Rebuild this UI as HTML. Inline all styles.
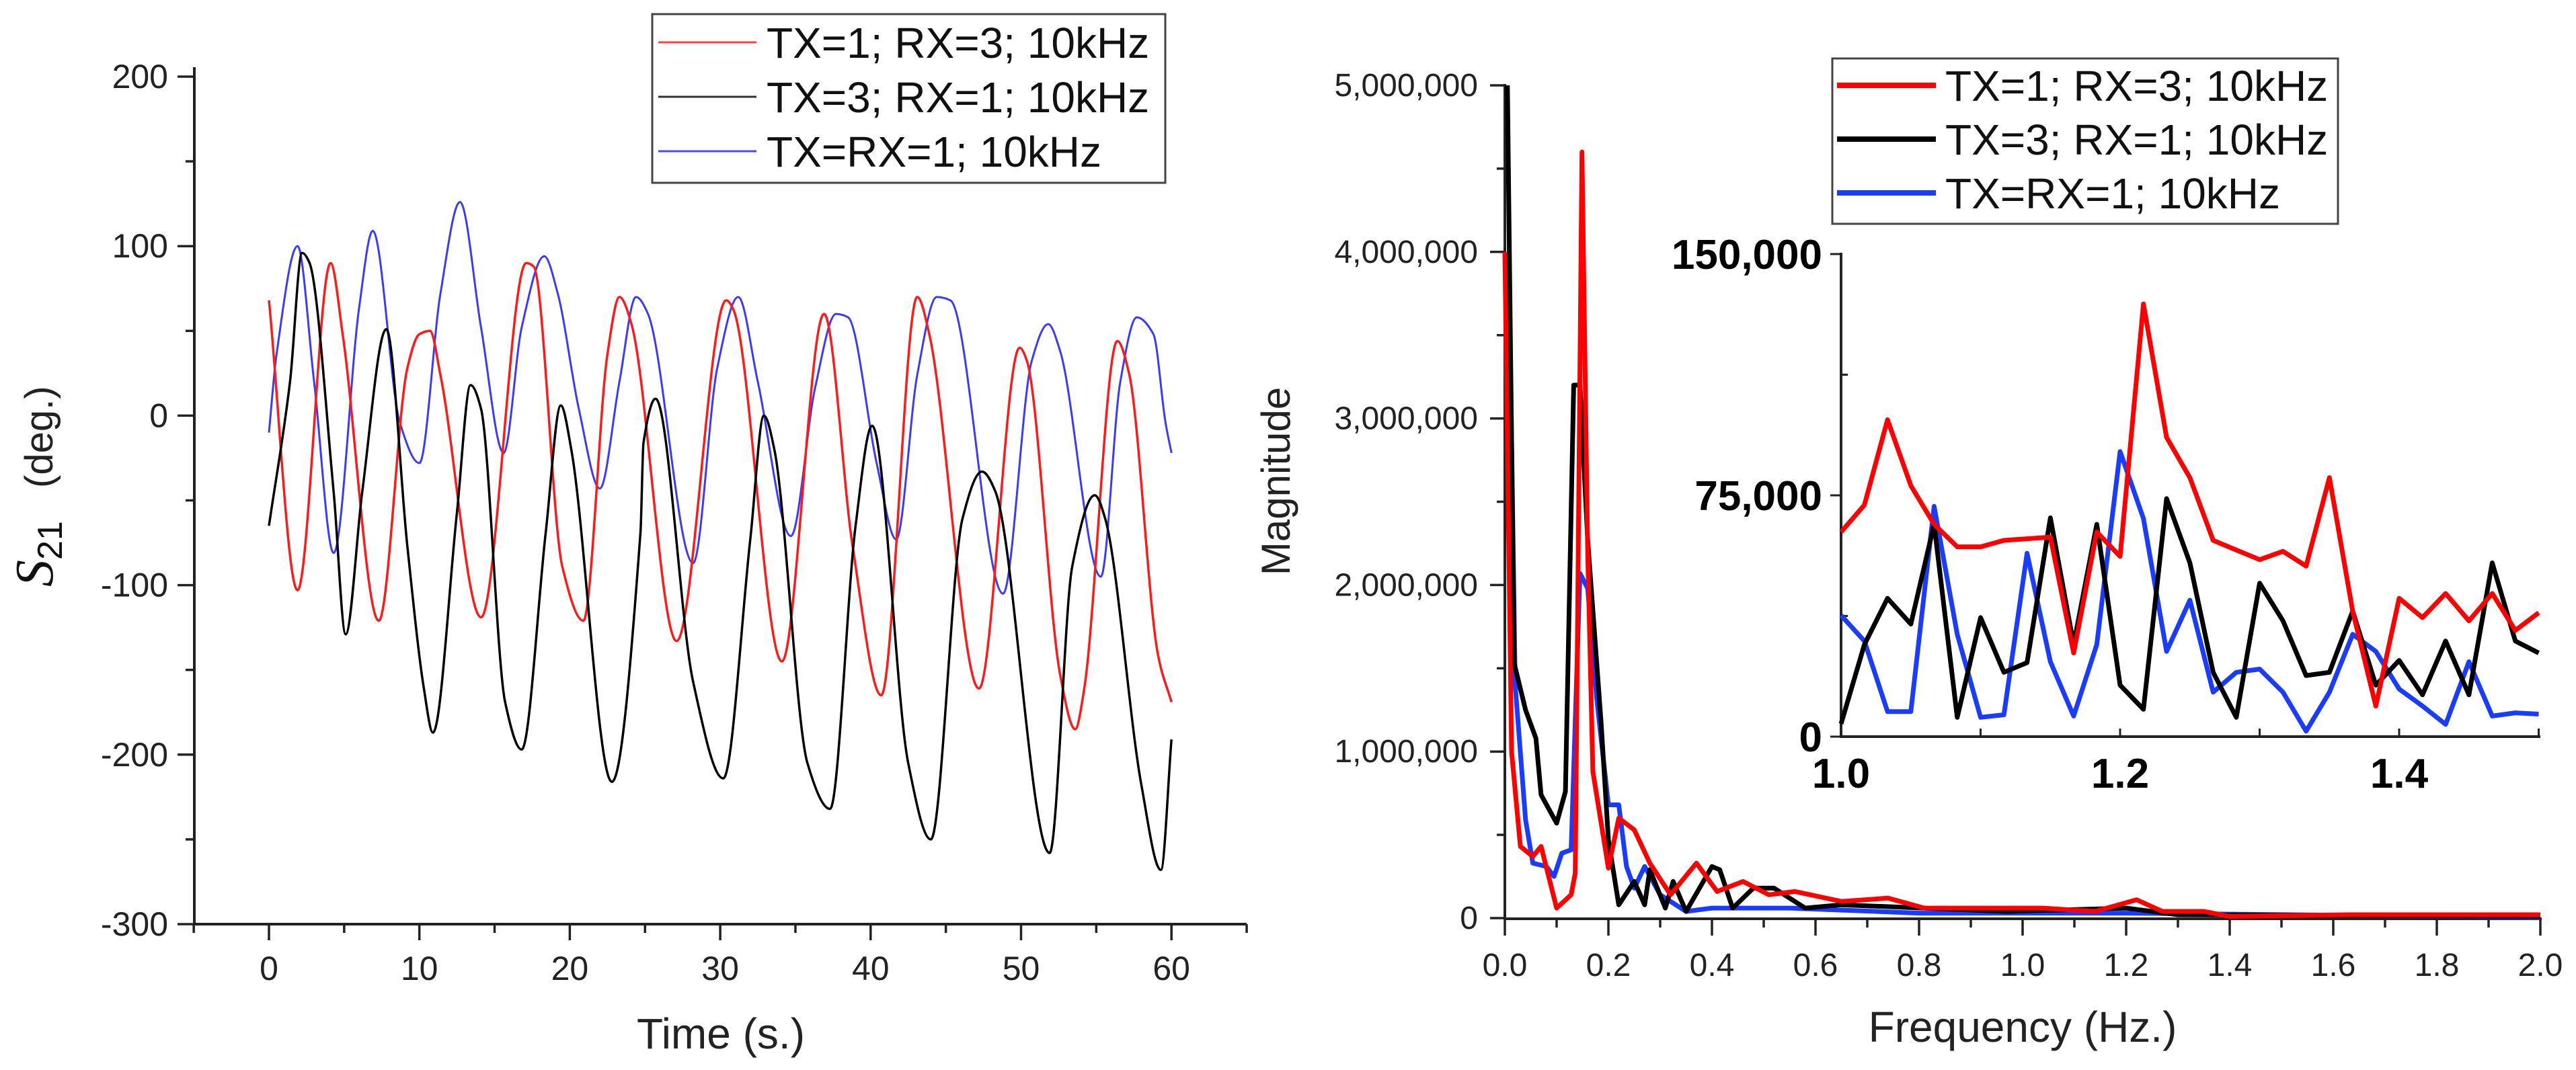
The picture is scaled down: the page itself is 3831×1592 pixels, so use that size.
<!DOCTYPE html>
<html><head><meta charset="utf-8"><style>
html,body{margin:0;padding:0;background:#fff;}
svg{display:block;font-family:"Liberation Sans",Arial,sans-serif;}
</style></head><body>
<svg id="c" width="3831" height="1592" viewBox="0 0 3831 1592" xmlns="http://www.w3.org/2000/svg">
<rect width="3831" height="1592" fill="#fff"/>
<g id="left"></g>
<g id="right"></g>
<g id="inset"></g>
</svg>
<script>
// ---- Left chart data (time s, S21 deg) ----
const redT=[0,1.9,4.1,4.9,7.3,9.2,10,10.7,11.4,14.1,17.1,17.6,19.5,20.9,22.5,23.3,24.1,27.1,30.4,30.9,34.1,36.9,38.8,40.7,43.1,43.9,47.2,49.9,50.4,52.6,53.6,54.2,56.4,57.2,59.1,60];
const redV=[68,-103,90,48,-121,28,48,50,24,-119,90,88,-89,-121,36,70,54,-133,68,62,-145,60,-77,-165,70,48,-161,40,32,-153,-185,-161,44,24,-141,-169];
const blackT=[0,1.4,2.2,2.7,4.3,5.1,6.2,7.8,9.2,10.3,10.9,12.5,13.4,14.1,15.7,16.8,18.4,19.4,20.1,22.8,24.7,24.9,25.7,28.2,30.2,32,32.9,33.6,35.8,37.3,39,40.1,42.5,44,46.1,47.4,48.3,51.9,53.4,54.9,55.6,58,59.3,60];
const blackV=[-65,20,96,90,-45,-129,-45,51,-77,-161,-187,-57,18,4,-169,-197,-69,6,-20,-216,-69,-16,10,-157,-214,-73,0,-20,-205,-232,-65,-6,-205,-250,-61,-33,-45,-258,-89,-47,-61,-218,-268,-191];
const blueT=[0,0.5,1.9,3,4.3,6,6.9,8.7,10,11.4,12.7,14.1,15.6,16.8,18.3,19.2,20.6,22,23.3,24.4,25.2,28.2,29.8,31.2,32.5,34.7,36.3,37.7,38.5,40.4,41.7,43.1,44.4,45.3,48.8,50.7,51.8,52.6,55.3,56.6,57.7,58.8,59.6,60];
const blueV=[-10,36,100,20,-81,64,109,-4,-28,72,126,52,-22,52,94,72,4,-43,20,70,60,-87,28,70,20,-71,16,60,58,-28,-73,24,70,68,-105,32,54,38,-95,20,58,48,-4,-22];
const leftXTicks=[0,10,20,30,40,50,60];
const leftYTicks=[-300,-200,-100,0,100,200];
const legendLabels=["TX=1; RX=3; 10kHz","TX=3; RX=1; 10kHz","TX=RX=1; 10kHz"];

// ---- Right chart data (Hz, magnitude) ----
const fRed=[0,0.013,0.03,0.054,0.07,0.10,0.128,0.136,0.149,0.16,0.17,0.20,0.22,0.25,0.28,0.32,0.37,0.41,0.46,0.51,0.56,0.65,0.74,0.81,0.91,1.04,1.14,1.22,1.27,1.35,1.4,1.63,2.0];
const mRed=[4.0e6,1.0e6,0.43e6,0.37e6,0.43e6,0.06e6,0.14e6,0.27e6,4.6e6,2.2e6,0.88e6,0.3e6,0.6e6,0.53e6,0.33e6,0.14e6,0.33e6,0.16e6,0.22e6,0.14e6,0.16e6,0.1e6,0.12e6,0.06e6,0.06e6,0.06e6,0.04e6,0.11e6,0.04e6,0.04e6,0.01e6,0.02e6,0.02e6];
const fBlack=[0.005,0.018,0.04,0.06,0.07,0.10,0.117,0.133,0.145,0.16,0.186,0.2,0.22,0.25,0.27,0.28,0.31,0.325,0.35,0.40,0.415,0.44,0.48,0.52,0.58,0.65,0.97,1.2,1.3,2.0];
const mBlack=[5.0e6,1.53e6,1.25e6,1.08e6,0.74e6,0.57e6,0.76e6,3.2e6,3.2e6,2.27e6,1.17e6,0.47e6,0.08e6,0.22e6,0.08e6,0.29e6,0.06e6,0.22e6,0.04e6,0.31e6,0.29e6,0.06e6,0.18e6,0.18e6,0.06e6,0.08e6,0.04e6,0.06e6,0.02e6,0.01e6];
const fBlue=[0.01,0.02,0.04,0.054,0.08,0.095,0.11,0.128,0.145,0.16,0.177,0.2,0.22,0.235,0.25,0.27,0.30,0.35,0.40,0.45,0.55,0.8,1.2,2.0];
const mBlue=[3.5e6,1.4e6,0.59e6,0.33e6,0.31e6,0.25e6,0.39e6,0.41e6,2.07e6,1.98e6,1.33e6,0.68e6,0.68e6,0.31e6,0.18e6,0.31e6,0.14e6,0.04e6,0.06e6,0.06e6,0.06e6,0.03e6,0.03e6,0.005e6];
const rightXTicks=["0.0","0.2","0.4","0.6","0.8","1.0","1.2","1.4","1.6","1.8","2.0"];
const rightYTicks=["0","1,000,000","2,000,000","3,000,000","4,000,000","5,000,000"];

// ---- Inset data ----
const insetF=[1.0,1.0167,1.0333,1.05,1.0667,1.0833,1.1,1.1167,1.1333,1.15,1.1667,1.1833,1.2,1.2167,1.2333,1.25,1.2667,1.2833,1.3,1.3167,1.3333,1.35,1.3667,1.3833,1.4,1.4167,1.4333,1.45,1.4667,1.4833,1.5];
const insetRed=[63600,72000,98500,78000,66000,59000,59000,61000,61500,62000,26000,63600,56000,134500,93000,80500,61000,58000,55000,57600,53000,80500,39000,9500,43000,37000,44500,36000,44500,33000,38500];
const insetBlack=[4000,28600,43000,35000,66000,6000,37000,20000,23000,68000,28600,66000,16000,8500,74000,54000,20000,6000,47700,36000,19000,20000,39000,16000,23700,13000,29700,13000,54000,29700,26000];
const insetBlue=[37700,29700,7800,7800,71600,31800,6000,6800,57000,23300,6400,28600,88600,67800,26500,42400,13800,20000,21000,13800,1700,13800,31800,26500,14800,9500,3800,23300,6400,7400,7000];
const insetXTicks=["1.0","1.2","1.4"];
const insetYTicks=["0","75,000","150,000"];

const NS="http://www.w3.org/2000/svg";
function mk(tag,parent,attrs,text){const e=document.createElementNS(NS,tag);for(const k in attrs)e.setAttribute(k,attrs[k]);if(text!==undefined)e.textContent=text;parent.appendChild(e);return e;}
function poly(parent,xs,ys,sx,sy,color,w){return mk('polyline',parent,{points:xs.map((x,i)=>sx(x).toFixed(1)+','+sy(ys[i]).toFixed(1)).join(' '),fill:'none',stroke:color,'stroke-width':w,'stroke-linejoin':'round'});}
// monotone cubic (Fritsch-Carlson) - no overshoot
function smooth(parent,xs,ys,sx,sy,color,w){
  const X=xs.map(sx),Y=ys.map(sy),n=X.length;
  const dl=[],h=[];
  for(let i=0;i<n-1;i++){h[i]=X[i+1]-X[i];dl[i]=(Y[i+1]-Y[i])/h[i];}
  const m=new Array(n);
  m[0]=dl[0];m[n-1]=dl[n-2];
  for(let i=1;i<n-1;i++){m[i]=(dl[i-1]*dl[i]<=0)?0:(2/(1/dl[i-1]+1/dl[i]));}
  let d='M'+X[0].toFixed(1)+','+Y[0].toFixed(1);
  for(let i=0;i<n-1;i++){
    const c1x=X[i]+h[i]/3,c1y=Y[i]+m[i]*h[i]/3,c2x=X[i+1]-h[i]/3,c2y=Y[i+1]-m[i+1]*h[i]/3;
    d+=' C'+c1x.toFixed(1)+','+c1y.toFixed(1)+' '+c2x.toFixed(1)+','+c2y.toFixed(1)+' '+X[i+1].toFixed(1)+','+Y[i+1].toFixed(1);
  }
  return mk('path',parent,{d:d,fill:'none',stroke:color,'stroke-width':w,'stroke-linejoin':'round'});
}

// ===== LEFT =====
const L=document.getElementById('left');
const lx=t=>400+t*22.37, ly=v=>114+(200-v)*2.522;
let e;
e=mk('line',L,{x1:289,y1:100,x2:289,y2:1376,stroke:'#222','stroke-width':4});

e=mk('line',L,{x1:287,y1:1375,x2:1854,y2:1375,stroke:'#222','stroke-width':4});

for(let v=-300;v<=200;v+=50){const maj=v%100===0;e=mk('line',L,{x1:maj?264:276,y1:ly(v),x2:289,y2:ly(v),stroke:'#222','stroke-width':3.5});}
leftYTicks.forEach(v=>{e=mk('text',L,{x:250,y:ly(v)+17,'font-size':50,'text-anchor':'end',fill:'#222'},String(v));});
for(let t=-5;t<=65;t+=5){const maj=t%10===0;e=mk('line',L,{x1:lx(t),y1:1375,x2:lx(t),y2:maj?1399:1388,stroke:'#222','stroke-width':3.5});}
leftXTicks.forEach(t=>{e=mk('text',L,{x:lx(t),y:1458,'font-size':50,'text-anchor':'middle',fill:'#222'},String(t));});
e=mk('text',L,{x:1072,y:1560,'font-size':64,'text-anchor':'middle',fill:'#222'},'Time (s.)');

const yt=mk('g',L,{transform:'translate(78,0) rotate(-90)'});

const st=mk('text',yt,{x:-873,y:0,'font-size':80,'font-family':'Liberation Serif,serif','font-style':'italic',fill:'#111'},'S');
mk('tspan',st,{'font-size':52,'font-style':'normal','font-family':'Liberation Sans,sans-serif',dy:14},'21');
mk('text',yt,{x:-726,y:0,'font-size':58,fill:'#222'},'(deg.)');
e=smooth(L,blueT,blueV,lx,ly,'#3a3aff',3);
e=smooth(L,redT,redV,lx,ly,'#ff1a1a',3.5);
e=smooth(L,blackT,blackV,lx,ly,'#000',3.5);
const lg=mk('g',L,{});
mk('rect',lg,{x:970,y:21,width:763,height:251,fill:'#fff',stroke:'#444','stroke-width':3});
const lcol=['#ff4040','#333','#4a4aff'];
legendLabels.forEach((s,i)=>{const y=63+i*81;mk('line',lg,{x1:979,y1:y,x2:1125,y2:y,stroke:lcol[i],'stroke-width':3});const t=mk('text',lg,{x:1140,y:y+23,'font-size':64,fill:'#111'},s);});

// ===== RIGHT =====
const R=document.getElementById('right');
const rx=f=>2238+f*770, ry=m=>1366-m/1e6*247.8;
e=mk('line',R,{x1:2238,y1:125,x2:2238,y2:1368,stroke:'#222','stroke-width':4});
e=mk('line',R,{x1:2236,y1:1367,x2:3780,y2:1367,stroke:'#222','stroke-width':4});
for(let k=0;k<=10;k++){const maj=k%2===0;e=mk('line',R,{x1:maj?2216:2226,y1:ry(k*5e5),x2:2238,y2:ry(k*5e5),stroke:'#222','stroke-width':3.5});}
rightYTicks.forEach((s,i)=>{e=mk('text',R,{x:2198,y:ry(i*1e6)+16,'font-size':48,'text-anchor':'end',fill:'#222'},s);});
for(let k=0;k<=20;k++){const maj=k%2===0;e=mk('line',R,{x1:rx(k*0.1),y1:1367,x2:rx(k*0.1),y2:maj?1392:1380,stroke:'#222','stroke-width':3.5});}
rightXTicks.forEach((s,i)=>{e=mk('text',R,{x:rx(i*0.2),y:1452,'font-size':48,'text-anchor':'middle',fill:'#222'},s);});
e=mk('text',R,{x:3008,y:1550,'font-size':64,'text-anchor':'middle',fill:'#222'},'Frequency (Hz.)');
e=mk('text',R,{x:0,y:0,'font-size':60,'text-anchor':'middle',fill:'#222',transform:'translate(1918,716) rotate(-90)'},'Magnitude');
e=poly(R,fBlue,mBlue,rx,ry,'#1a3cff',7);
e=poly(R,fBlack,mBlack,rx,ry,'#000',7);
e=poly(R,fRed,mRed,rx,ry,'#ff0000',7);
const rg=mk('g',R,{});
mk('rect',rg,{x:2725,y:87,width:752,height:246,fill:'#fff',stroke:'#444','stroke-width':3});
const rcol=['#ff0000','#000','#1a3cff'];
legendLabels.forEach((s,i)=>{const y=127+i*80;mk('line',rg,{x1:2732,y1:y,x2:2879,y2:y,stroke:rcol[i],'stroke-width':8});const t=mk('text',rg,{x:2893,y:y+23,'font-size':64,fill:'#111'},s);});

// ===== INSET =====
const I=document.getElementById('inset');
const ix=f=>2738+(f-1.0)*2075, iy=v=>1096-v/75000*359;
e=mk('line',I,{x1:2738,y1:376,x2:2738,y2:1098,stroke:'#222','stroke-width':4});
e=mk('line',I,{x1:2736,y1:1096,x2:3778,y2:1096,stroke:'#222','stroke-width':4});
for(let k=0;k<=4;k++){const maj=k%2===0;e=mk('line',I,{x1:maj?2722:2738,y1:iy(k*37500),x2:maj?2738:2748,y2:iy(k*37500),stroke:'#222','stroke-width':3});}
insetYTicks.forEach((s,i)=>{e=mk('text',I,{x:2710,y:iy(i*75000)+22,'font-size':62,'font-weight':'bold','text-anchor':'end',fill:'#000'},s);});
for(let k=0;k<=5;k++){e=mk('line',I,{x1:ix(1+k*0.1),y1:1084,x2:ix(1+k*0.1),y2:1096,stroke:'#222','stroke-width':3});}
insetXTicks.forEach((s,i)=>{e=mk('text',I,{x:ix(1+i*0.2),y:1172,'font-size':62,'font-weight':'bold','text-anchor':'middle',fill:'#000'},s);});
e=poly(I,insetF,insetBlue,ix,iy,'#1a3cff',7);
e=poly(I,insetF,insetBlack,ix,iy,'#000',7);
e=poly(I,insetF,insetRed,ix,iy,'#ff0000',7);
</script>
</body></html>
